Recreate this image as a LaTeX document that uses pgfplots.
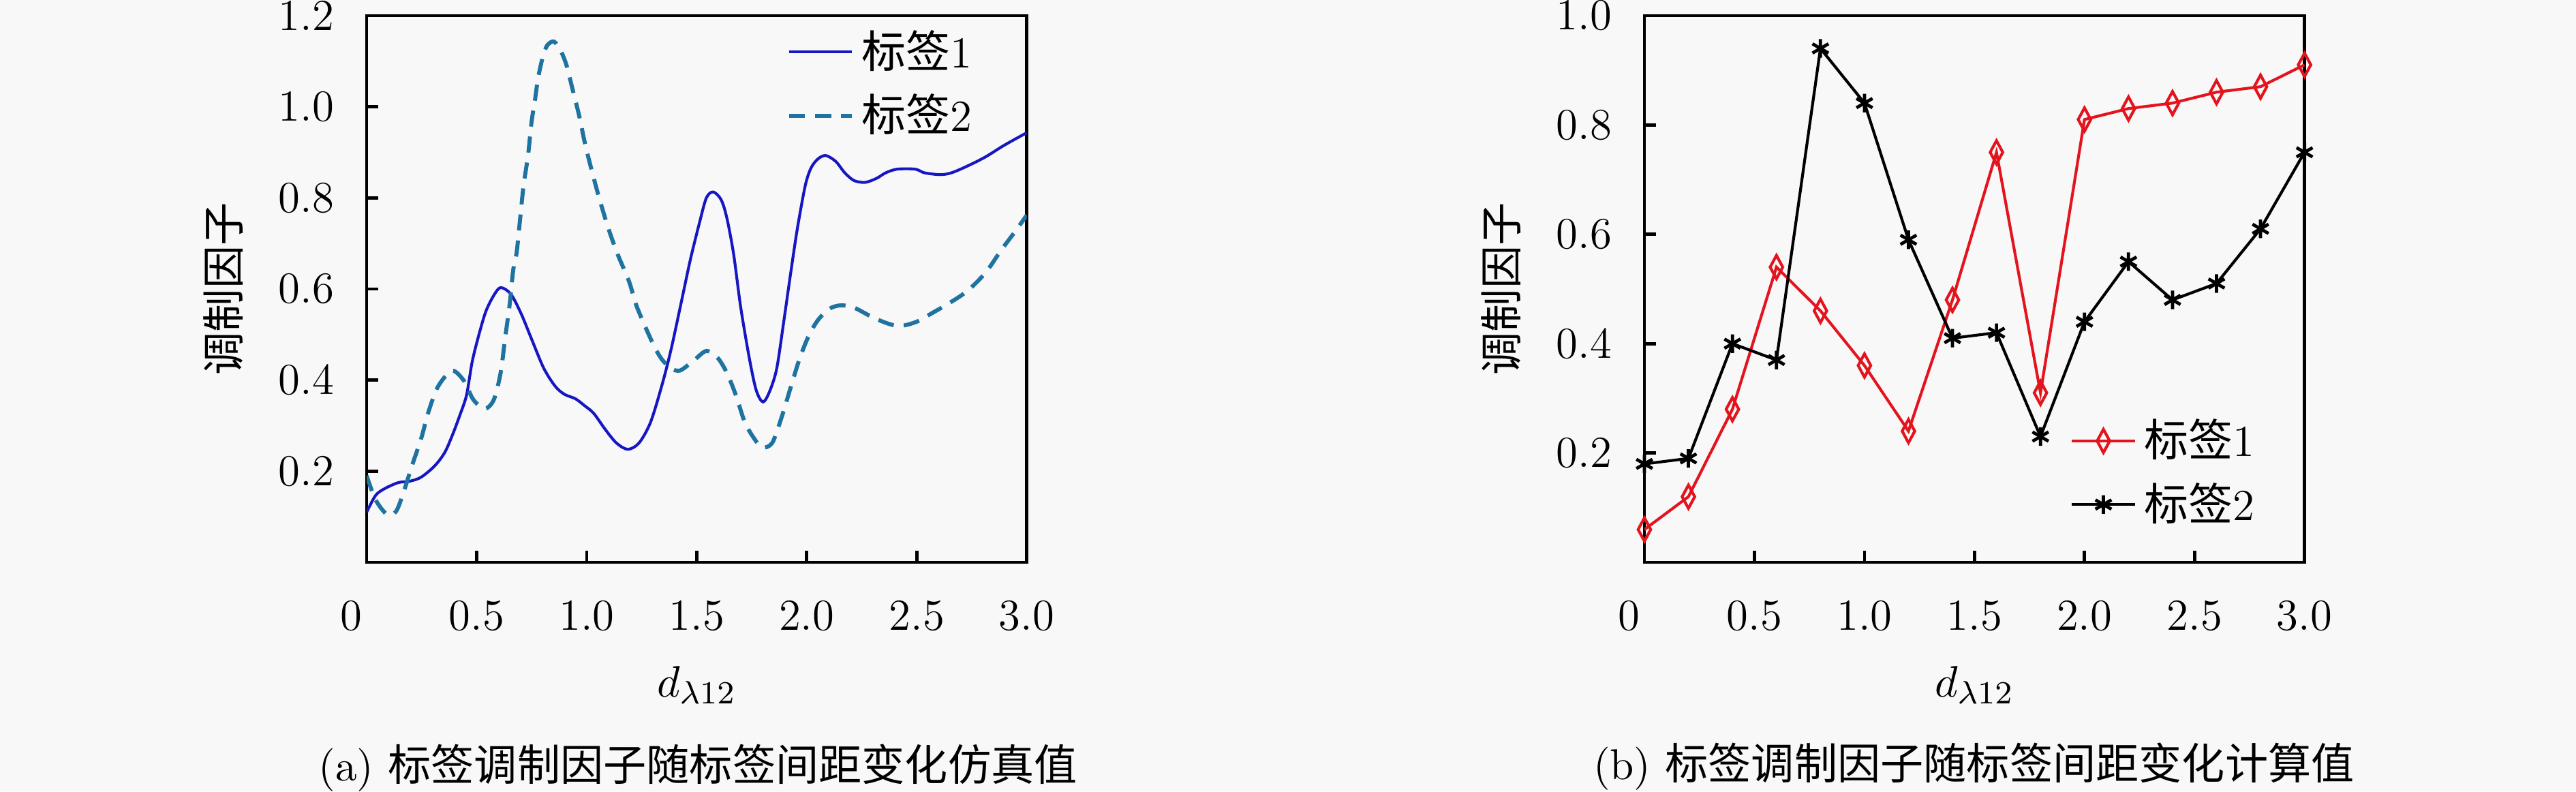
\documentclass[border=0pt]{standalone}
\usepackage{fontspec}
\newfontfamily\cjk{Noto Sans CJK SC}
\usepackage{pgfplots}
\pgfplotsset{compat=1.18}
\definecolor{bgc}{RGB}{248,248,248}
\definecolor{c1}{RGB}{22,22,195}
\definecolor{c2}{RGB}{30,115,160}
\definecolor{cr}{RGB}{228,20,30}

\pgfplotstableread{
x y
0.000 0.110
0.041 0.147
0.083 0.162
0.144 0.175
0.196 0.178
0.248 0.187
0.310 0.212
0.356 0.242
0.392 0.282
0.423 0.322
0.454 0.367
0.480 0.441
0.511 0.501
0.542 0.551
0.578 0.586
0.609 0.603
0.655 0.589
0.702 0.546
0.753 0.486
0.805 0.426
0.856 0.387
0.898 0.369
0.949 0.359
0.990 0.344
1.032 0.327
1.084 0.292
1.135 0.262
1.187 0.248
1.238 0.262
1.290 0.307
1.341 0.387
1.383 0.466
1.430 0.571
1.472 0.666
1.513 0.746
1.544 0.800
1.575 0.813
1.611 0.796
1.637 0.756
1.668 0.676
1.700 0.560
1.740 0.446
1.771 0.377
1.802 0.352
1.833 0.377
1.864 0.426
1.895 0.526
1.926 0.631
1.957 0.731
1.993 0.826
2.019 0.865
2.050 0.885
2.086 0.893
2.132 0.880
2.173 0.855
2.215 0.838
2.266 0.834
2.318 0.843
2.359 0.855
2.411 0.863
2.493 0.863
2.535 0.855
2.607 0.851
2.658 0.855
2.731 0.870
2.813 0.890
2.896 0.915
3.000 0.943
}\simA

\pgfplotstableread{
x y
0.000 0.190
0.041 0.137
0.093 0.105
0.134 0.112
0.170 0.157
0.206 0.212
0.248 0.272
0.279 0.327
0.320 0.382
0.372 0.416
0.402 0.419
0.444 0.397
0.485 0.357
0.537 0.337
0.578 0.357
0.609 0.416
0.629 0.491
0.650 0.566
0.666 0.641
0.682 0.681
0.698 0.756
0.713 0.826
0.734 0.895
0.749 0.965
0.765 1.015
0.780 1.065
0.801 1.110
0.821 1.135
0.852 1.143
0.883 1.122
0.909 1.090
0.935 1.040
0.966 0.980
0.992 0.920
1.023 0.860
1.059 0.796
1.100 0.731
1.141 0.676
1.193 0.616
1.228 0.561
1.300 0.481
1.341 0.446
1.383 0.426
1.424 0.421
1.482 0.441
1.544 0.464
1.595 0.449
1.637 0.416
1.678 0.367
1.719 0.307
1.761 0.272
1.797 0.252
1.843 0.262
1.885 0.317
1.926 0.382
1.967 0.446
2.008 0.496
2.050 0.531
2.101 0.556
2.153 0.564
2.215 0.559
2.307 0.536
2.390 0.521
2.442 0.520
2.504 0.529
2.566 0.546
2.648 0.569
2.731 0.596
2.813 0.636
2.885 0.686
2.947 0.726
3.000 0.762
}\simB

\pgfplotstableread{
x y
0.0 0.06
0.2 0.12
0.4 0.28
0.6 0.54
0.8 0.46
1.0 0.36
1.2 0.24
1.4 0.48
1.6 0.75
1.8 0.31
2.0 0.81
2.2 0.83
2.4 0.84
2.6 0.86
2.8 0.87
3.0 0.91
}\calA

\pgfplotstableread{
x y
0.0 0.18
0.2 0.19
0.4 0.40
0.6 0.37
0.8 0.94
1.0 0.84
1.2 0.59
1.4 0.41
1.6 0.42
1.8 0.23
2.0 0.44
2.2 0.55
2.4 0.48
2.6 0.51
2.8 0.61
3.0 0.75
}\calB

\pgfplotsset{
 myaxis/.style={
  scale only axis, width=164pt, height=135.8pt, anchor=south west,
  xmin=0, xmax=3, ymin=0,
  axis line style={line width=0.8pt},
  every tick/.style={line width=0.8pt, black},
  major tick length=2.8pt,
  tick align=inside, tick pos=left,
  xtick={0,0.5,1,1.5,2,2.5,3},
  xticklabels={\makebox[0pt]{\hspace*{-7.8pt}0},0.5,1.0,1.5,2.0,2.5,3.0},
  tick label style={font=\fontsize{11}{13}\selectfont},
  xticklabel style={yshift=-6pt},
  yticklabel style={xshift=-4.6pt},
  xlabel={$d_{\lambda 12}$},
  xlabel style={at={(axis description cs:0.5,-0.2457)}, anchor=base, font=\fontsize{11}{13}\selectfont},
  ylabel={\cjk 调制因子},
  ylabel style={at={(axis description cs:-0.217,0.5)}, anchor=center, font=\fontsize{10.7}{12.5}\selectfont},
  legend style={draw=none, fill=none, font=\fontsize{11}{13}\selectfont, row sep=1pt},
  legend cell align=left,
 }
}

\begin{document}
\begin{tikzpicture}
\path[use as bounding box, fill=bgc] (0,0) rectangle (640pt,196.57pt);

\begin{axis}[myaxis, at={(91.09pt,56.89pt)}, ymax=1.2,
  ytick={0.2,0.4,0.6,0.8,1.0,1.2}, yticklabels={0.2,0.4,0.6,0.8,1.0,1.2},
  legend style={at={(axis description cs:0.617,1.004)}, anchor=north west},
  legend image code/.code={\draw[#1] (0cm,0cm) -- (0.55cm,0cm);}]
\addplot[c1, line width=0.7pt, smooth, tension=0.5] table {\simA};
\addlegendentry{{\cjk 标签}1}
\addplot[c2, line width=1pt, dash pattern=on 4pt off 2.5pt, smooth, tension=0.5] table {\simB};
\addlegendentry{{\cjk 标签}2}
\end{axis}

\begin{axis}[myaxis, at={(408.55pt,56.89pt)}, ymax=1.0,
  ytick={0.2,0.4,0.6,0.8,1.0}, yticklabels={0.2,0.4,0.6,0.8,1.0},
  legend style={at={(axis description cs:0.626,0.035)}, anchor=south west},
  legend image code/.code={\draw[mark repeat=2,mark phase=2,#1] plot coordinates {(0cm,0cm) (0.275cm,0cm) (0.55cm,0cm)};}]
\addplot[cr, line width=0.7pt, mark=diamond, mark size=2.9pt, mark options={solid, fill=white, xscale=0.72, line width=0.7pt}] table {\calA};
\addlegendentry{{\cjk 标签}1}
\addplot[black, line width=0.7pt, mark=asterisk, mark size=2.3pt, mark options={line width=0.8pt}] table {\calB};
\addlegendentry{{\cjk 标签}2}
\end{axis}

\node[anchor=base] at (173.4pt,2.7pt) {\fontsize{10.7}{12.5}\selectfont (a) {\cjk 标签调制因子随标签间距变化仿真值}};
\node[anchor=base] at (490.4pt,3.0pt) {\fontsize{10.7}{12.5}\selectfont (b) {\cjk 标签调制因子随标签间距变化计算值}};
\end{tikzpicture}
\end{document}
